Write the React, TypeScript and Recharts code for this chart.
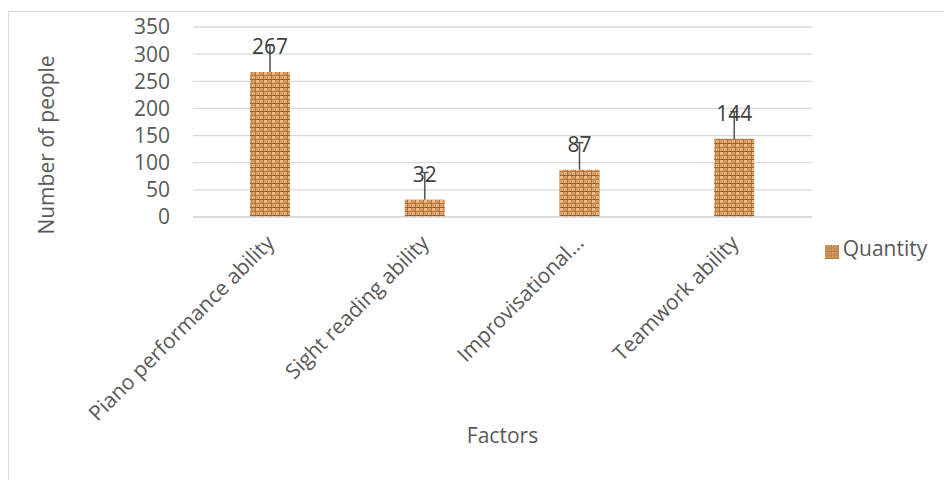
import React from "react"
import {
  BarChart,
  Bar,
  XAxis,
  YAxis,
  CartesianGrid,
  LabelList,
  Legend,
  Label,
} from "recharts"

const factors = [
  "Piano performance ability",
  "Sight reading ability",
  "Improvisational ability",
  "Teamwork ability",
]
// what Excel actually prints under each bar (the third one is cut short)
const tickLabels = [
  "Piano performance ability",
  "Sight reading ability",
  "Improvisational…",
  "Teamwork ability",
]
const quantity = [267, 32, 87, 144]
const errorPlus = [50, 50, 50, 50]
const yTicks = [0, 50, 100, 150, 200, 250, 300, 350]

const rows = factors.map((name, i) => ({
  name,
  quantity: quantity[i],
}))

const FONT = "'Open Sans', sans-serif"
const GREY = "#595959"

function SlantTick(props: any) {
  const { x, y, payload, index } = props
  const ax = x
  const ay = y + 14
  return (
    <text
      x={ax}
      y={ay}
      transform={`rotate(-45, ${ax}, ${ay})`}
      textAnchor="end"
      dy="0.35em"
      fill={GREY}
      fontSize={21}
      fontFamily={FONT}
    >
      {tickLabels[index] ?? payload.value}
    </text>
  )
}

// plus-only error bar + value label, scaled from the bar's own pixel height
function ValueWithError(props: any) {
  const { x, y, width, height, value, index } = props
  const cx = x + width / 2
  const pxPerUnit = value ? height / value : 0
  const top = y - errorPlus[index] * pxPerUnit
  return (
    <g>
      <line x1={cx} y1={y} x2={cx} y2={top} stroke={GREY} strokeWidth={1.6} />
      <line x1={cx - 4} y1={top} x2={cx + 4} y2={top} stroke={GREY} strokeWidth={1.6} />
      <text
        x={cx}
        y={y - 18}
        textAnchor="middle"
        fill="#404040"
        fontSize={21}
        fontFamily={FONT}
      >
        {value}
      </text>
    </g>
  )
}

export default function App() {
  return (
    <div style={{ position: "absolute", left: 0, top: 0, width: 944, height: 480, overflow: "hidden", background: "#fff" }}>
      <div
        style={{
          position: "absolute",
          left: 8,
          top: 11,
          width: 960,
          height: 500,
          borderTop: "1px solid #d9d9d9",
          borderLeft: "1px solid #d9d9d9",
        }}
      />
      <BarChart
        width={944}
        height={480}
        data={rows}
        margin={{ top: 27, right: 132, left: 0, bottom: 0 }}
        style={{ position: "absolute", left: 0, top: 0, fontFamily: FONT }}
      >
        <defs>
          <pattern id="burlap" width="8" height="8" patternUnits="userSpaceOnUse">
            <rect width="8" height="8" fill="#b07040" />
            <rect x="0" y="0" width="3" height="3" fill="#f0c08a" />
            <rect x="4" y="4" width="3" height="3" fill="#ebb87f" />
            <rect x="4" y="0" width="3" height="3" fill="#d49b62" />
            <rect x="0" y="4" width="3" height="3" fill="#dba367" />
            <rect x="3" y="0" width="1" height="8" fill="#c68a55" />
            <rect x="0" y="7" width="8" height="1" fill="#9a5e2c" />
            <rect x="5" y="5" width="1" height="1" fill="#c48650" />
            <rect x="1" y="1" width="1" height="1" fill="#dcab74" />
          </pattern>
        </defs>
        <CartesianGrid vertical={false} stroke="#d9d9d9" strokeWidth={1.3} />
        <XAxis
          dataKey="name"
          height={263}
          axisLine={{ stroke: "#d9d9d9", strokeWidth: 1.3 }}
          tickLine={false}
          interval={0}
          tick={<SlantTick />}
        >
          <Label
            content={(p: any) => (
              <text
                x={p.viewBox.x + p.viewBox.width / 2}
                y={p.viewBox.y + 220}
                textAnchor="middle"
                dominantBaseline="middle"
                fill={GREY}
                fontSize={21}
                fontFamily={FONT}
              >
                Factors
              </text>
            )}
          />
        </XAxis>
        <YAxis
          width={193}
          domain={[0, 350]}
          ticks={yTicks}
          interval={0}
          axisLine={false}
          tickLine={false}
          tickMargin={17}
          tick={{ fill: GREY, fontSize: 21, fontFamily: FONT }}
        >
          <Label
            content={(p: any) => {
              const cx = p.viewBox.x + 48
              const cy = p.viewBox.y + p.viewBox.height / 2 + 23
              return (
                <text
                  x={cx}
                  y={cy}
                  transform={`rotate(-90, ${cx}, ${cy})`}
                  textAnchor="middle"
                  dominantBaseline="middle"
                  fill={GREY}
                  fontSize={21}
                  fontFamily={FONT}
                >
                  Number of people
                </text>
              )
            }}
          />
        </YAxis>
        <Legend
          layout="horizontal"
          align="center"
          verticalAlign="middle"
          iconType="square"
          iconSize={14}
          wrapperStyle={{ position: "absolute", left: 818, top: 234, width: 126, fontFamily: FONT, textAlign: "left" }}
          formatter={(v: string) => (
            <span style={{ color: GREY, fontSize: 21 }}>{v}</span>
          )}
        />
        <Bar
          dataKey="quantity"
          name="Quantity"
          fill="url(#burlap)"
          barSize={40}
          isAnimationActive={false}
        >
          <LabelList dataKey="quantity" content={<ValueWithError />} />
        </Bar>
      </BarChart>
    </div>
  )
}
